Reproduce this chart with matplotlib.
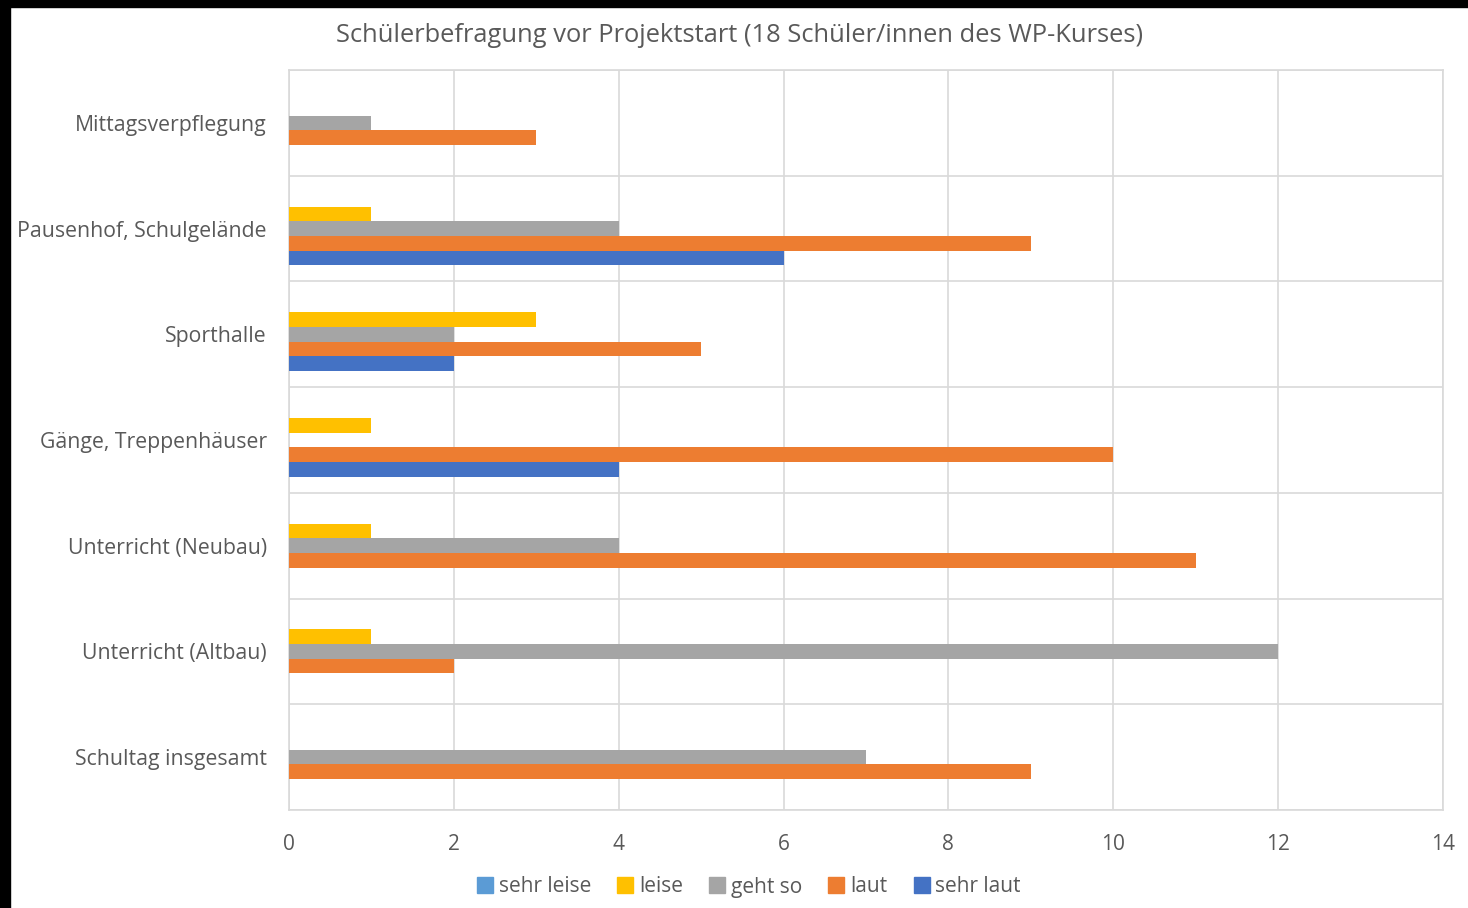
import numpy as np
import matplotlib
matplotlib.use('Agg')
import matplotlib.pyplot as plt
from matplotlib.patches import Rectangle
from matplotlib.lines import Line2D

#categories top to bottom
categories = ['Mittagsverpflegung', 'Pausenhof, Schulgelände', 'Sporthalle',
              'Gänge, Treppenhäuser', 'Unterricht (Neubau)', 'Unterricht (Altbau)',
              'Schultag insgesamt']
series_names = ['sehr leise', 'leise', 'geht so', 'laut', 'sehr laut']
sehr_leise = [0, 0, 0, 0, 0, 0, 0]
leise = [0, 1, 3, 1, 1, 1, 0]
geht_so = [1, 4, 2, 0, 4, 12, 7]
laut = [3, 9, 5, 10, 11, 2, 9]
sehr_laut = [0, 6, 2, 4, 0, 0, 0]
colors = ['#5B9BD5', '#FFC000', '#A5A5A5', '#ED7D31', '#4472C4']
x_ticks = [0, 2, 4, 6, 8, 10, 12, 14]

plt.rcParams['font.family'] = ['Open Sans', 'DejaVu Sans']

fig = plt.figure(figsize=(14.68, 9.08), dpi=100)
ax = fig.add_axes([289/1468, 1-810/908, (1443-289)/1468, (810-70)/908])

y = np.arange(len(categories))
h = 0.139
all_series = [sehr_leise, leise, geht_so, laut, sehr_laut]
for k, vals in enumerate(all_series):
    ax.barh(y + (k - 2) * h, vals, height=h, color=colors[k], zorder=3)

ax.set_xlim(0, 14)
ax.set_ylim(len(categories) - 0.5, -0.5)
ax.set_xticks(x_ticks)
ax.set_yticks(y)
ax.set_yticklabels(categories)
ax.set_yticks(np.arange(-0.5, len(categories), 1), minor=True)
ax.tick_params(axis='both', which='both', length=0, colors='#595959')
ax.tick_params(axis='x', pad=17, labelsize=15)
ax.tick_params(axis='y', pad=16, labelsize=15.3)
ax.grid(axis='x', color='#D9D9D9', linewidth=1.2, zorder=0)
ax.grid(axis='y', which='minor', color='#D9D9D9', linewidth=1.2, zorder=0)
for s in ax.spines.values():
    s.set_color('#D9D9D9')
    s.set_linewidth(1.2)

fig.text(740/1468, 1-35/908, 'Schülerbefragung vor Projektstart (18 Schüler/innen des WP-Kurses)',
         ha='center', va='center', fontsize=18.4, color='#595959')

handles = [Line2D([], [], marker='s', linestyle='none', markersize=11,
                  markerfacecolor=c, markeredgecolor=c) for c in colors]
fig.legend(handles, series_names, loc='center', bbox_to_anchor=(745/1468, 1-887/908),
           ncol=5, frameon=False, fontsize=15, labelcolor='#595959',
           handletextpad=-0.1, columnspacing=0.9, handlelength=1.5)

# black frame edges from the screenshot
fig.add_artist(Rectangle((0, 0), 10/1468, 1, transform=fig.transFigure, color='black'))
fig.add_artist(Rectangle((0, 1-7/908), 1, 7/908, transform=fig.transFigure, color='black'))

fig.savefig('out.png', dpi=100)
